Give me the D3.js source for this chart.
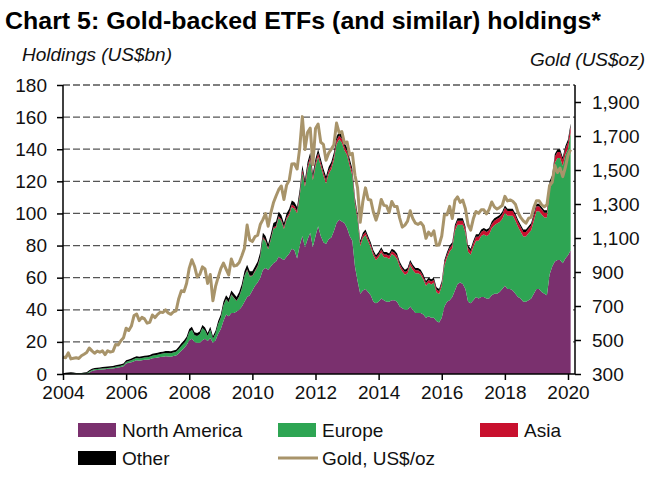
<!DOCTYPE html>
<html><head><meta charset="utf-8">
<script src="https://cdn.jsdelivr.net/npm/d3@7"></script>
<style>body{margin:0;background:#fff}svg{display:block;font-family:"Liberation Sans",Arial,sans-serif}</style>
</head><body><svg id="c" width="658" height="495"></svg>
<script>
// ---- DATA (monthly, Jan 2004 .. Feb 2020) ----
const startYear = 2004;
const xTicks = [2004,2006,2008,2010,2012,2014,2016,2018,2020];
const leftTicks = [0,20,40,60,80,100,120,140,160,180];
const rightTicks = [300,500,700,900,1100,1300,1500,1700,1900];

const northAmerica = [
0,0,0,0,0,0,0,0,0,0,1.0,1.8,
2.3,2.5,2.6,2.8,3.0,3.2,3.3,3.4,3.8,4.0,4.3,4.8,
6.5,7.0,7.3,8.0,8.5,8.3,8.6,8.8,8.9,9.2,9.8,10.0,
10.2,10.6,10.7,11.0,10.9,10.8,11.2,11.5,12.8,14.5,16.0,18.0,
21,22,20,19.5,19.5,21,22,20.5,22.5,19.5,21,25,
28,33,37,36,38,38,39,40,42,45,48,49,
52,55,57,60,65,66,65,67,69,70,73,72,
71,73,75,78,77,72,80,86,79,84,88,79,
86,92,86,82,81,84,85,89,94,96,95,94,
91,86,83,67,58,50,52,53,51,49,45,44,
45,47,46,45,45,46,46,45,42,41,40,40,
42,40,38,38,38,37,35,36,35,35,33,32,
35,42,45,46,48,52,56,57,56,53,45,44,
46,48,47,48,48,47,47,49,50,50,51,53,
55,53,53,52,50,48,47,45,45,46,47,50,
53,53,51,50,49,62,67,70,71,71,69,72,
74,77];

const europe = [
0,0,0,0.2,0.3,0.3,0.3,0.4,0.5,0.5,0.6,0.7,
0.6,0.6,0.6,0.6,0.6,0.6,0.6,0.7,0.7,0.7,0.8,0.8,
1.0,1.1,1.2,1.3,1.4,1.4,1.4,1.5,1.5,1.5,1.6,1.7,
1.8,1.9,2.0,2.1,2.1,2.1,2.2,2.3,2.6,3.0,3.2,3.5,
5.2,5.6,4.2,4.2,5.2,7.6,5.1,3.2,5.1,2.4,4.3,6.1,
6.9,9.7,9.5,8.5,11.4,9.4,6.4,8.2,11.1,16.0,16.8,11.8,
9.0,8.9,9.9,12.8,19.6,16.6,12.7,16.6,21.4,21.3,24.3,23.3,
19.3,23.2,24.1,26.0,26.0,28.1,30.8,39.4,37.6,43.5,45.4,41.6,
43.5,43.4,43.6,41.7,37.7,40.6,42.6,44.5,49.2,50.2,49.2,45.4,
45.4,43.6,40.8,39.2,38.4,29.8,32.7,33.6,31.7,29.8,28.9,26.9,
27.8,28.7,26.7,27.7,26.7,28.7,27.7,26.7,24.8,22.8,21.8,22.8,
25.8,24.8,24.8,24.8,23.8,21.8,19.9,20.8,20.8,21.8,17.9,17.9,
19.8,25.5,27.4,30.3,30.3,37.0,36.9,35.9,36.9,35.0,31.2,30.2,
33.1,35.0,36.0,37.9,38.9,38.9,39.9,41.8,42.7,43.7,43.7,43.6,
45.5,45.5,45.5,46.5,45.5,43.6,41.6,40.7,40.7,41.6,42.5,45.4,
48.3,48.3,48.4,47.4,48.4,53.0,51.9,61.6,63.5,63.5,60.6,64.5,
66.3,73.2];

const asia = [
0,0,0,0,0,0,0,0,0,0,0,0,
0,0,0,0,0,0,0,0,0,0,0,0,
0,0,0,0,0,0,0,0,0,0,0,0,
0,0,0,0,0,0,0,0,0,0,0,0,
0,0,0,0,0,0,0,0,0,0,0,0,
0.1,0.1,0.2,0.2,0.2,0.2,0.2,0.3,0.3,0.3,0.4,0.4,
0.4,0.5,0.5,0.6,0.7,0.7,0.7,0.8,0.9,1.0,1.0,1.1,
1.2,1.3,1.4,1.5,1.5,1.5,1.7,2.0,1.9,2.0,2.1,2.0,
2.1,2.2,2.1,2.0,2.0,2.1,2.1,2.2,2.4,2.4,2.4,2.3,
2.3,2.2,2.1,1.9,1.8,1.6,1.7,1.8,1.7,1.7,1.6,1.6,
1.7,1.8,1.8,1.8,1.8,1.8,1.8,1.8,1.7,1.7,1.7,1.7,
1.8,1.8,1.8,1.8,1.8,1.8,1.7,1.8,1.8,1.8,1.7,1.7,
1.8,2.0,2.1,2.2,2.2,2.4,2.5,2.5,2.5,2.4,2.3,2.3,
2.4,2.5,2.5,2.6,2.6,2.6,2.6,2.7,2.8,2.8,2.8,2.9,
3.0,3.0,3.0,3.0,3.0,2.9,2.9,2.8,2.8,2.9,3.0,3.1,
3.2,3.2,3.1,3.1,3.1,3.4,3.5,3.7,3.8,3.8,3.7,3.8,
3.9,4.0];

const other = [
0.5,0.8,1.0,0.9,0.6,0.4,0.3,0.3,0.5,0.6,0.7,0.8,
0.8,0.8,0.8,0.9,0.9,0.9,0.9,0.9,1.0,1.0,1.0,1.0,
1.0,1.0,1.1,1.1,1.2,1.1,1.1,1.1,1.1,1.1,1.2,1.2,
1.2,1.2,1.2,1.3,1.3,1.3,1.3,1.3,1.5,1.6,1.6,1.7,
1.8,1.9,1.8,1.8,1.8,1.9,1.9,1.8,1.9,1.6,1.7,1.9,
2.0,2.2,2.3,2.3,2.4,2.4,2.4,2.5,2.6,2.7,2.8,2.8,
2.6,2.6,2.6,2.6,2.7,2.7,2.6,2.6,2.7,2.7,2.7,2.6,
2.5,2.5,2.5,2.5,2.5,2.4,2.5,2.6,2.5,2.5,2.5,2.4,
2.4,2.4,2.3,2.3,2.3,2.3,2.3,2.3,2.4,2.4,2.4,2.3,
2.3,2.2,2.1,1.9,1.8,1.6,1.6,1.6,1.6,1.5,1.5,1.5,
1.5,1.5,1.5,1.5,1.5,1.5,1.5,1.5,1.5,1.5,1.5,1.5,
1.4,1.4,1.4,1.4,1.4,1.4,1.4,1.4,1.4,1.4,1.4,1.4,
1.4,1.5,1.5,1.5,1.5,1.6,1.6,1.6,1.6,1.6,1.5,1.5,
1.5,1.5,1.5,1.5,1.5,1.5,1.5,1.5,1.5,1.5,1.5,1.5,
1.5,1.5,1.5,1.5,1.5,1.5,1.5,1.5,1.5,1.5,1.5,1.5,
1.5,1.5,1.5,1.5,1.5,1.6,1.6,1.7,1.7,1.7,1.7,1.7,
1.8,1.8];

const gold = [
400,396,424,389,393,396,391,407,416,426,453,436,
422,435,428,436,414,437,429,433,473,471,496,513,
569,556,582,644,653,614,633,624,599,604,647,632,
651,664,662,677,659,651,666,672,743,790,784,834,
923,972,934,871,886,930,918,833,885,731,815,870,
920,952,917,883,976,935,939,956,996,1040,1176,1088,
1079,1108,1116,1179,1208,1244,1169,1246,1307,1347,1384,1406,
1327,1411,1439,1536,1537,1506,1629,1814,1620,1722,1746,1531,
1744,1770,1663,1651,1558,1599,1622,1649,1776,1719,1726,1658,
1665,1589,1598,1469,1395,1192,1315,1395,1327,1324,1253,1205,
1251,1327,1292,1289,1251,1315,1285,1286,1217,1164,1176,1199,
1260,1214,1187,1180,1191,1171,1098,1135,1114,1142,1057,1060,
1112,1235,1237,1286,1215,1321,1342,1309,1323,1272,1178,1146,
1213,1256,1245,1266,1266,1242,1268,1312,1283,1270,1280,1291,
1345,1318,1324,1316,1299,1250,1221,1201,1187,1215,1223,1279,
1319,1319,1295,1284,1296,1409,1428,1526,1485,1511,1461,1515,
1588,1620];

const seriesNames = ["North America","Europe","Asia","Other"];
const colors = {"North America":"#7a306e","Europe":"#2ea553","Asia":"#c8102e","Other":"#000000"};
const goldColor = "#a8946a";

// ---- CHART ----
const svg = d3.select("#c");
const X0=63, X1=568, XR=575, YB=374, YT=85;
const x = d3.scaleLinear().domain([2004,2020]).range([X0,X1]);
const yL = d3.scaleLinear().domain([0,180]).range([YB,YT]);
const yR = d3.scaleLinear().domain([300,2000]).range([YB,YT]);

const rows = northAmerica.map((v,i)=>({t:startYear+i/12,"North America":v,"Europe":europe[i],"Asia":asia[i],"Other":other[i],gold:gold[i]}));

// title
svg.append("text").attr("x",5).attr("y",29).attr("font-size",24).attr("font-weight","bold").attr("fill","#000")
  .attr("textLength",596).attr("lengthAdjust","spacingAndGlyphs")
  .text("Chart 5: Gold-backed ETFs (and similar) holdings*");
svg.append("text").attr("x",22).attr("y",61).attr("font-size",19).attr("font-style","italic").attr("fill","#111")
  .attr("textLength",150).attr("lengthAdjust","spacingAndGlyphs").text("Holdings (US$bn)");
svg.append("text").attr("x",645).attr("y",66).attr("text-anchor","end").attr("font-size",19).attr("font-style","italic").attr("fill","#111").text("Gold (US$oz)");

// gridlines
svg.append("g").selectAll("line").data(leftTicks.filter(d=>d>0)).join("line")
  .attr("x1",X0).attr("x2",XR).attr("y1",d=>yL(d)).attr("y2",d=>yL(d))
  .attr("stroke","#555").attr("stroke-width",1.3).attr("stroke-dasharray","7,3");

// stacked areas
const stack = d3.stack().keys(seriesNames)(rows);
const area = d3.area().x(d=>x(d.data.t)).y0(d=>yL(d[0])).y1(d=>yL(d[1]));
svg.append("g").selectAll("path").data(stack).join("path")
  .attr("d",area).attr("fill",d=>colors[d.key]);

// gold line
const line = d3.line().x(d=>x(d.t)).y(d=>yR(d.gold));
svg.append("path").datum(rows).attr("d",line).attr("fill","none")
  .attr("stroke",goldColor).attr("stroke-width",3).attr("stroke-linejoin","round");

// axes
const fs = 19;
const gl = svg.append("g").attr("transform",`translate(${X0},0)`)
  .call(d3.axisLeft(yL).tickValues(leftTicks).tickSize(6).tickPadding(10));
const gr = svg.append("g").attr("transform",`translate(${XR},0)`)
  .call(d3.axisRight(yR).tickValues(rightTicks).tickSize(6).tickPadding(11).tickFormat(d3.format(",")));
const gx = svg.append("g").attr("transform",`translate(0,${YB})`)
  .call(d3.axisBottom(x).tickValues(xTicks).tickSize(6).tickPadding(6).tickFormat(d3.format("d")));
[gl,gr,gx].forEach(g=>{
  g.select(".domain").remove();
  g.selectAll(".tick line").attr("stroke","#000").attr("stroke-width",1.5);
  g.selectAll(".tick text").attr("font-size",fs).attr("fill","#111").attr("font-family","Liberation Sans, Arial, sans-serif");
});
svg.append("line").attr("x1",X0).attr("x2",X0).attr("y1",YT).attr("y2",YB).attr("stroke","#000").attr("stroke-width",1.5);
svg.append("line").attr("x1",XR).attr("x2",XR).attr("y1",YT).attr("y2",YB).attr("stroke","#000").attr("stroke-width",1.5);
svg.append("line").attr("x1",X0).attr("x2",XR).attr("y1",YB).attr("y2",YB).attr("stroke","#000").attr("stroke-width",1.5);

// legend
const leg = [
  {name:"North America",type:"rect",x:78,y:430},
  {name:"Europe",type:"rect",x:278,y:430},
  {name:"Asia",type:"rect",x:480,y:430},
  {name:"Other",type:"rect",x:78,y:458},
  {name:"Gold, US$/oz",type:"line",x:278,y:458}
];
const lg = svg.append("g");
leg.forEach(l=>{
  if(l.type==="rect"){
    lg.append("rect").attr("x",l.x).attr("y",l.y-7).attr("width",38).attr("height",14).attr("fill",colors[l.name]);
  } else {
    lg.append("line").attr("x1",l.x).attr("x2",l.x+40).attr("y1",l.y).attr("y2",l.y).attr("stroke",goldColor).attr("stroke-width",3);
  }
  lg.append("text").attr("x",l.x+44).attr("y",l.y+7).attr("font-size",19).attr("fill","#111").text(l.name);
});
</script></body></html>
